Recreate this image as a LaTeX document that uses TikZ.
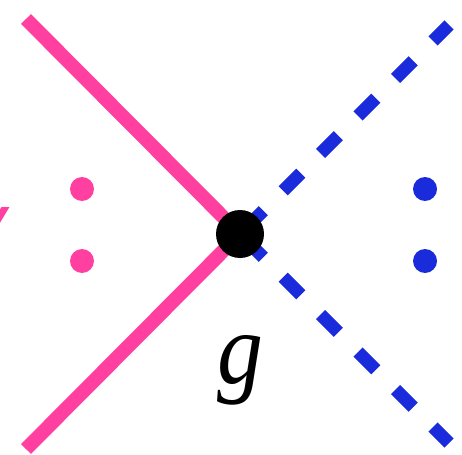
\documentclass[tikz,border=0pt]{standalone}
\usepackage{fontspec}
\setmainfont{Liberation Serif}
\setsansfont{Liberation Sans}
\usetikzlibrary{backgrounds}
\definecolor{legpink}{RGB}{255,64,160}
\definecolor{legblue}{RGB}{26,43,219}

\begin{document}
\begin{tikzpicture}[
  x=1pt, y=-1pt,
  vertex/.style={circle, fill=black, minimum size=48pt, inner sep=0pt},
  dot/.style={circle, minimum size=24pt, inner sep=0pt},
  pinkleg/.style={line width=14pt, legpink},
  blueleg/.style={line width=13pt, legblue, dash pattern=on 25pt off 28pt, dash phase=45pt},
  lbl/.style={inner sep=0pt, font=\fontsize{102}{102}\selectfont\itshape}
]
\clip (0,0) rectangle (462,454);

\node[vertex] (v) at (240,234) {};
\node[lbl, anchor=base, xscale=0.9] (g) at (240,383) {g};

% free ends of the four legs
\coordinate (pinkup) at (26,19);
\coordinate (pinklow) at (26,449);
\coordinate (blueup) at (449,25);
\coordinate (bluelow) at (449,443);

\node[dot, fill=legpink] (p1) at (82,189) {};
\node[dot, fill=legpink] (p2) at (82,261) {};
\node[dot, fill=legblue] (b1) at (425,189) {};
\node[dot, fill=legblue] (b2) at (425,261) {};

\node[inner sep=0pt, anchor=north east, text=legpink,
      font=\fontsize{80}{80}\selectfont\sffamily\itshape] (vl) at (4,207) {V};

\begin{pgfonlayer}{background}
  \draw[pinkleg] (v.center) -- (pinkup);
  \draw[pinkleg] (v.center) -- (pinklow);
  \draw[blueleg] (v.center) -- (blueup);
  \draw[blueleg] (v.center) -- (bluelow);
\end{pgfonlayer}
\end{tikzpicture}
\end{document}
